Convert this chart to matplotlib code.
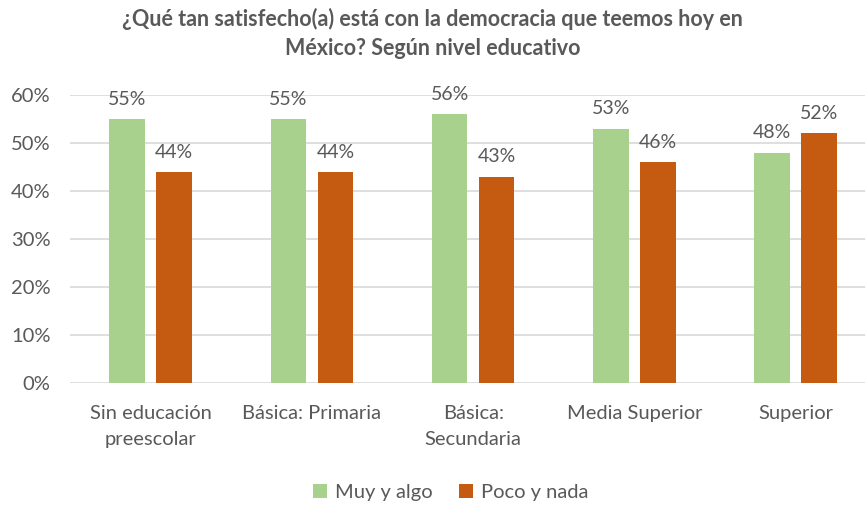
import matplotlib.pyplot as plt
import numpy as np

plt.rcParams['font.family'] = ['Lato', 'DejaVu Sans']

# Datos
categorias = ['Sin educación\npreescolar', 'Básica: Primaria', 'Básica:\nSecundaria',
              'Media Superior', 'Superior']
muy_y_algo = [55, 55, 56, 53, 48]
poco_y_nada = [44, 44, 43, 46, 52]

gris = '#595959'
verde = '#A9D18E'
naranja = '#C55A11'

fig = plt.figure(figsize=(8.65, 5.08), dpi=100)
ax = fig.add_axes([0.081, 0.246, 0.919, 0.567])

x = np.arange(len(categorias))
ancho = 0.22
b1 = ax.bar(x - 0.146, muy_y_algo, ancho, color=verde, label='Muy y algo', zorder=3)
b2 = ax.bar(x + 0.146, poco_y_nada, ancho, color=naranja, label='Poco y nada', zorder=3)

for barras in (b1, b2):
    for b in barras:
        ax.annotate(f'{b.get_height():.0f}%', (b.get_x() + b.get_width() / 2, b.get_height()),
                    xytext=(0, 8), textcoords='offset points', ha='center', va='bottom',
                    fontsize=14, color=gris, annotation_clip=False)

ax.set_xlim(-0.5, 4.43)
ax.set_ylim(0, 60)
ax.set_yticks(range(0, 61, 10))
ax.set_yticklabels([f'{v}%' for v in range(0, 61, 10)])
ax.set_xticks(x)
ax.set_xticklabels(categorias, linespacing=1.6)
ax.tick_params(axis='both', length=0, labelsize=14.5, colors=gris)
ax.tick_params(axis='x', pad=16)
ax.tick_params(axis='y', pad=14)
ax.yaxis.grid(True, color='#D9D9D9', linewidth=1.2, zorder=0)
for s in ax.spines.values():
    s.set_visible(False)

fig.suptitle('¿Qué tan satisfecho(a) está con la democracia que teemos hoy en\nMéxico? Según nivel educativo',
             x=0.5, y=0.985, fontsize=15.5, fontweight='bold', color=gris, linespacing=1.5)

fig.legend(loc='center', bbox_to_anchor=(0.521, 0.03), ncol=2, frameon=False,
           fontsize=14.5, labelcolor=gris, handlelength=0.7, handleheight=0.7,
           handletextpad=0.4, columnspacing=1.3)

fig.savefig('out.png', dpi=100)
